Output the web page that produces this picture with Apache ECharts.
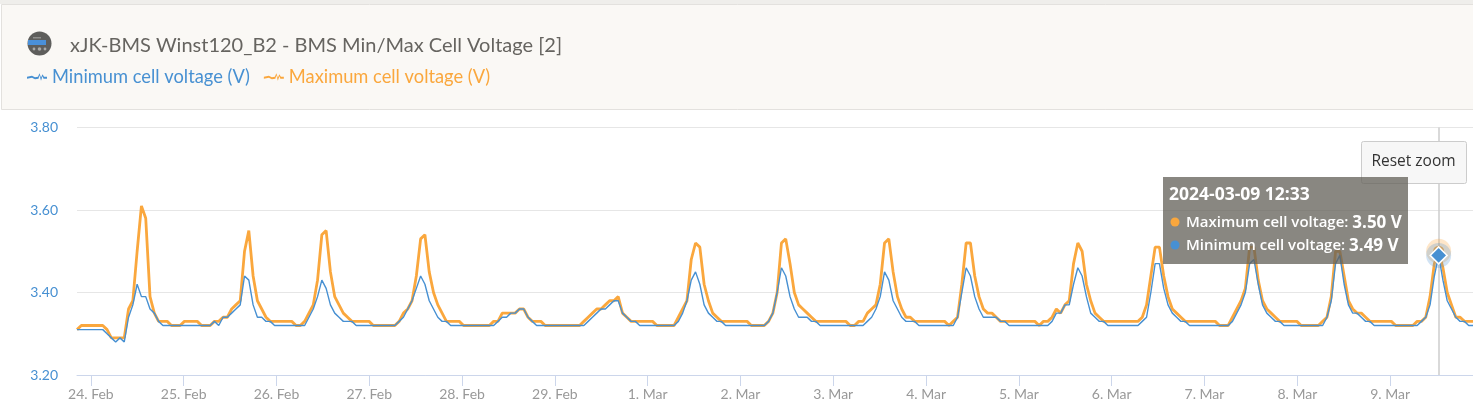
<!DOCTYPE html>
<html>
<head>
<meta charset="utf-8">
<style>html,body{margin:0;padding:0;background:#fff;overflow:hidden}#c{width:1473px;height:412px}</style>
<script src="https://cdn.jsdelivr.net/npm/echarts@6/dist/echarts.min.js"></script>
</head>
<body>
<div id="c"></div>
<script>
var chartTitle = 'xJK-BMS Winst120_B2 - BMS Min/Max Cell Voltage [2]';
var minName = 'Minimum cell voltage (V)';
var maxName = 'Maximum cell voltage (V)';
var yTicks = [3.2, 3.4, 3.6, 3.8];
var monthNames = ['Jan','Feb','Mar','Apr','May','Jun','Jul','Aug','Sep','Oct','Nov','Dec'];
var hoverTime = Date.UTC(2024, 2, 9, 12, 33);
var hoverIndex = 317;
var stepMinutes = 66.65;
var maxValues = [
3.31,3.32,3.32,3.32,3.32,3.32,3.32,3.31,3.29,3.29,
3.29,3.29,3.36,3.38,3.50,3.61,3.58,3.39,3.35,3.33,
3.33,3.33,3.32,3.32,3.32,3.33,3.33,3.33,3.33,3.32,
3.32,3.32,3.33,3.33,3.34,3.34,3.36,3.37,3.38,3.50,
3.55,3.44,3.38,3.36,3.34,3.33,3.33,3.33,3.33,3.33,
3.33,3.32,3.32,3.33,3.35,3.37,3.43,3.54,3.55,3.45,
3.39,3.37,3.35,3.34,3.33,3.33,3.33,3.33,3.33,3.32,
3.32,3.32,3.32,3.32,3.32,3.33,3.35,3.36,3.38,3.44,
3.53,3.54,3.45,3.40,3.37,3.35,3.33,3.33,3.33,3.33,
3.32,3.32,3.32,3.32,3.32,3.32,3.32,3.33,3.33,3.35,
3.35,3.35,3.35,3.36,3.36,3.34,3.33,3.33,3.33,3.32,
3.32,3.32,3.32,3.32,3.32,3.32,3.32,3.32,3.33,3.34,
3.35,3.36,3.36,3.37,3.38,3.38,3.39,3.35,3.34,3.33,
3.33,3.33,3.33,3.33,3.33,3.32,3.32,3.32,3.32,3.32,
3.34,3.36,3.38,3.48,3.52,3.51,3.42,3.38,3.35,3.34,
3.33,3.33,3.33,3.33,3.33,3.33,3.33,3.32,3.32,3.32,
3.32,3.33,3.35,3.40,3.52,3.53,3.47,3.40,3.37,3.36,
3.35,3.34,3.33,3.33,3.33,3.33,3.33,3.33,3.33,3.33,
3.32,3.32,3.33,3.33,3.35,3.36,3.37,3.42,3.52,3.53,
3.45,3.39,3.36,3.34,3.34,3.33,3.33,3.33,3.33,3.33,
3.33,3.33,3.33,3.32,3.33,3.34,3.42,3.52,3.52,3.44,
3.39,3.36,3.35,3.35,3.34,3.33,3.33,3.33,3.33,3.33,
3.33,3.33,3.33,3.33,3.32,3.33,3.33,3.34,3.36,3.35,
3.37,3.38,3.47,3.52,3.50,3.42,3.38,3.35,3.34,3.33,
3.33,3.33,3.33,3.33,3.33,3.33,3.33,3.33,3.34,3.37,
3.44,3.51,3.51,3.44,3.39,3.36,3.35,3.34,3.33,3.33,
3.33,3.33,3.33,3.33,3.33,3.33,3.32,3.32,3.32,3.34,
3.36,3.38,3.41,3.51,3.51,3.43,3.38,3.36,3.35,3.34,
3.33,3.33,3.33,3.33,3.33,3.32,3.32,3.32,3.32,3.32,
3.33,3.34,3.39,3.50,3.50,3.44,3.38,3.36,3.35,3.35,
3.34,3.33,3.33,3.33,3.33,3.33,3.33,3.32,3.32,3.32,
3.32,3.32,3.33,3.33,3.34,3.39,3.47,3.50,3.46,3.40,
3.37,3.34,3.34,3.33,3.33,3.33];
var minValues = [
3.31,3.31,3.31,3.31,3.31,3.31,3.31,3.30,3.29,3.28,
3.29,3.28,3.34,3.37,3.42,3.39,3.39,3.36,3.35,3.33,
3.32,3.32,3.32,3.32,3.32,3.32,3.32,3.32,3.32,3.32,
3.32,3.32,3.33,3.32,3.34,3.34,3.35,3.36,3.37,3.44,
3.43,3.37,3.34,3.34,3.33,3.33,3.32,3.32,3.32,3.32,
3.32,3.32,3.32,3.32,3.34,3.36,3.39,3.43,3.41,3.37,
3.35,3.34,3.33,3.33,3.33,3.32,3.32,3.32,3.32,3.32,
3.32,3.32,3.32,3.32,3.32,3.33,3.34,3.36,3.38,3.41,
3.44,3.42,3.38,3.36,3.34,3.33,3.33,3.32,3.32,3.32,
3.32,3.32,3.32,3.32,3.32,3.32,3.32,3.32,3.33,3.34,
3.34,3.35,3.35,3.36,3.36,3.34,3.33,3.32,3.32,3.32,
3.32,3.32,3.32,3.32,3.32,3.32,3.32,3.32,3.32,3.33,
3.34,3.35,3.36,3.36,3.37,3.38,3.38,3.35,3.34,3.33,
3.33,3.32,3.32,3.32,3.32,3.32,3.32,3.32,3.32,3.32,
3.33,3.35,3.38,3.43,3.45,3.42,3.37,3.35,3.34,3.33,
3.33,3.32,3.32,3.32,3.32,3.32,3.32,3.32,3.32,3.32,
3.32,3.33,3.35,3.40,3.46,3.44,3.39,3.36,3.34,3.34,
3.34,3.33,3.33,3.32,3.32,3.32,3.32,3.32,3.32,3.32,
3.32,3.32,3.32,3.32,3.33,3.34,3.36,3.39,3.45,3.43,
3.38,3.36,3.34,3.33,3.33,3.33,3.32,3.32,3.32,3.32,
3.32,3.32,3.32,3.32,3.32,3.34,3.40,3.46,3.44,3.39,
3.36,3.34,3.34,3.34,3.34,3.33,3.33,3.32,3.32,3.32,
3.32,3.32,3.32,3.32,3.32,3.32,3.32,3.33,3.35,3.35,
3.37,3.37,3.42,3.46,3.44,3.39,3.35,3.34,3.33,3.33,
3.32,3.32,3.32,3.32,3.32,3.32,3.32,3.32,3.33,3.34,
3.40,3.47,3.47,3.41,3.37,3.35,3.34,3.33,3.33,3.32,
3.32,3.32,3.32,3.32,3.32,3.32,3.32,3.32,3.32,3.33,
3.35,3.37,3.40,3.47,3.48,3.42,3.37,3.35,3.34,3.33,
3.33,3.32,3.32,3.32,3.32,3.32,3.32,3.32,3.32,3.32,
3.32,3.34,3.38,3.47,3.49,3.42,3.37,3.35,3.35,3.34,
3.33,3.33,3.32,3.32,3.32,3.32,3.32,3.32,3.32,3.32,
3.32,3.32,3.32,3.33,3.34,3.37,3.44,3.49,3.43,3.38,
3.36,3.34,3.33,3.33,3.32,3.32];

var BLUE = '#4790d2', ORANGE = '#faa73d';
var FONT = 'Lato, "Open Sans", sans-serif';
var MIN = 60000;
function timeAt(i){ return hoverTime + (i - hoverIndex) * stepMinutes * MIN; }
function pairs(vals){ return vals.map(function(v,i){ return [timeAt(i), v]; }); }

var chart = echarts.init(document.getElementById('c'), null, {renderer:'canvas', width:1473, height:412});
var legendIcon = 'path://M0,5 L5,4 L8,5.5 L11,5 L12.5,1.5 L14,6 L15.5,2.5 L17,5 L20,5 L20,7 L16.5,7 L15.5,4.5 L14,9 L12.5,3.5 L11.5,7 L8,7.5 L5,6 L0,7 Z';

chart.setOption({
  animation:false,
  useUTC:true,
  backgroundColor:'#ffffff',
  title:{show:false},
  legend:{
    left:22, top:63, itemWidth:20, itemHeight:9, itemGap:14, icon:legendIcon,
    data:[minName,maxName], selectedMode:false,
    textStyle:{color:'inherit', fontFamily:FONT, fontSize:18.3, padding:[0,0,0,0]}
  },
  grid:{left:77, right:0, top:127.5, height:247.5, containLabel:false},
  xAxis:{
    type:'time',
    min:timeAt(0),
    max:timeAt(325),
    minInterval:86400000, maxInterval:86400000,
    axisLine:{show:true, onZero:false, lineStyle:{color:'#ccd6eb', width:1}},
    axisTick:{show:true, length:11, lineStyle:{color:'#ccd6eb', width:1}},
    splitLine:{show:false},
    axisLabel:{
      showMinLabel:false, showMaxLabel:false, color:'#999999', fontFamily:FONT, fontSize:14, margin:12,
      formatter:function(v){ var d=new Date(v); return d.getUTCDate()+'. '+monthNames[d.getUTCMonth()]; }
    }
  },
  yAxis:{
    type:'value', min:yTicks[0], max:yTicks[yTicks.length-1], interval:0.2,
    axisLine:{show:false}, axisTick:{show:false},
    splitLine:{lineStyle:{color:'#e6e6e6', width:1}},
    axisLabel:{color:BLUE, fontFamily:FONT, fontSize:14, margin:19, padding:[7,0,0,0], formatter:function(v){return v.toFixed(2);}}
  },
  series:[
    {name:maxName, type:'line', data:pairs(maxValues), showSymbol:false, symbol:'none', z:3,
     color:ORANGE, lineStyle:{color:ORANGE, width:2.8}, silent:true,
     markLine:{silent:true, symbol:'none', label:{show:false}, animation:false,
       lineStyle:{color:'#cccccc', width:1.5, type:'solid'},
       data:[{xAxis:hoverTime}]},
     markPoint:{silent:true, animation:false, data:[
       {coord:[hoverTime, maxValues[hoverIndex]], symbol:'circle', symbolSize:25, itemStyle:{color:ORANGE, opacity:0.28}, label:{show:false}},
       {coord:[hoverTime, maxValues[hoverIndex]], symbol:'circle', symbolSize:11, itemStyle:{color:ORANGE}, label:{show:false}}
     ]}},
    {name:minName, type:'line', data:pairs(minValues), showSymbol:false, symbol:'none', z:4,
     color:BLUE, lineStyle:{color:BLUE, width:1.4}, silent:true,
     markPoint:{silent:true, animation:false, data:[
       {coord:[hoverTime, minValues[hoverIndex]], symbol:'circle', symbolSize:25, itemStyle:{color:BLUE, opacity:0.25}, label:{show:false}},
       {coord:[hoverTime, minValues[hoverIndex]], symbol:'diamond', symbolSize:17, itemStyle:{color:BLUE, borderColor:'#ffffff', borderWidth:1.5}, label:{show:false}}
     ]}}
  ],
  graphic:[
    {type:'rect', silent:true, z:-10, shape:{x:0,y:0,width:1473,height:4}, style:{fill:'#efeeeb'}},
    {type:'rect', silent:true, z:-9, shape:{x:1.5,y:4.5,width:1473,height:105}, style:{fill:'#faf8f5', stroke:'#e3e1de', lineWidth:1}},
    {type:'circle', silent:true, z:5, shape:{cx:39.5,cy:43.5,r:12}, style:{fill:'#5e5e5c'}},
    {type:'rect', silent:true, z:6, shape:{x:28,y:40,width:18,height:5}, style:{fill:'#4a90d9'}},
    {type:'rect', silent:true, z:6, shape:{x:33,y:37,width:8,height:1.5}, style:{fill:'#8f8f8d'}},
    {type:'circle', silent:true, z:6, shape:{cx:34,cy:49,r:1.4}, style:{fill:'#a9a9a7'}},
    {type:'circle', silent:true, z:6, shape:{cx:39.5,cy:49,r:1.8}, style:{fill:'#a9a9a7'}},
    {type:'circle', silent:true, z:6, shape:{cx:45,cy:49,r:1.4}, style:{fill:'#a9a9a7'}},
    {type:'text', silent:true, z:6, style:{x:70,y:45.5,text:chartTitle,fill:'#666460',font:'20px '+FONT,verticalAlign:'middle'}},
    {type:'rect', silent:true, z:20, shape:{x:1361.5,y:141.5,width:105,height:42,r:2}, style:{fill:'#f7f7f7',stroke:'#cccccc',lineWidth:1}},
    {type:'text', silent:true, z:21, style:{x:1413.5,y:162,text:'Reset zoom',fill:'#333333',font:'15.5px "Open Sans", sans-serif',align:'center',verticalAlign:'middle'}},
    {type:'rect', silent:true, z:30, shape:{x:1163,y:177,width:245,height:87}, style:{fill:'rgba(100,97,90,0.76)'}},
    {type:'text', silent:true, z:31, style:{x:1169,y:195,text:'2024-03-09 12:33',fill:'#ffffff',font:'bold 17.5px "Open Sans", sans-serif',verticalAlign:'middle'}},
    {type:'circle', silent:true, z:31, shape:{cx:1175,cy:222,r:4.5}, style:{fill:ORANGE}},
    {type:'text', silent:true, z:31, style:{x:1186,y:223,text:'{a|Maximum cell voltage: }{b|'+maxValues[hoverIndex].toFixed(2)+' V}',verticalAlign:'middle',
      rich:{a:{fill:'#ffffff',font:'600 15px "Open Sans", sans-serif'},b:{fill:'#ffffff',font:'bold 17px "Open Sans", sans-serif'}}}},
    {type:'circle', silent:true, z:31, shape:{cx:1175,cy:245,r:4.5}, style:{fill:BLUE}},
    {type:'text', silent:true, z:31, style:{x:1186,y:246,text:'{a|Minimum cell voltage: }{b|'+minValues[hoverIndex].toFixed(2)+' V}',verticalAlign:'middle',
      rich:{a:{fill:'#ffffff',font:'600 15px "Open Sans", sans-serif'},b:{fill:'#ffffff',font:'bold 17px "Open Sans", sans-serif'}}}}
  ]
});
</script>
</body>
</html>
